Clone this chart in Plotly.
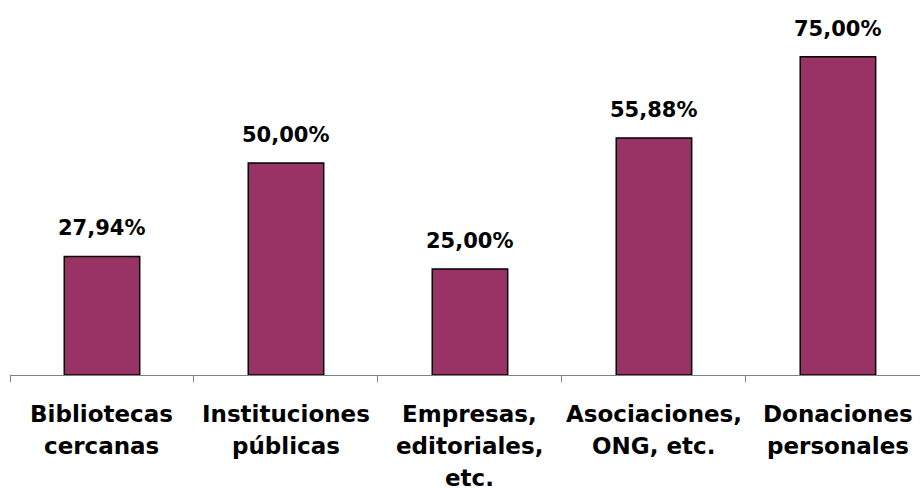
import plotly.graph_objects as go

categories = ["Bibliotecas<br>cercanas", "Instituciones<br>públicas", "Empresas,<br>editoriales,<br>etc.",
              "Asociaciones,<br>ONG, etc.", "Donaciones<br>personales"]
values = [27.94, 50.00, 25.00, 55.88, 75.00]

FONT = "DejaVu Sans, Liberation Sans, Arial"

fig = go.Figure(go.Bar(
    x=categories, y=values,
    marker=dict(color="#993366", line=dict(color="#000000", width=1.5)),
    width=0.41,
    hoverinfo="skip",
))

annotations = []
# data labels
for c, v in zip(categories, values):
    annotations.append(dict(
        x=c, y=v, xref="x", yref="y", yanchor="bottom", yshift=14,
        text=("%.2f%%" % v).replace(".", ","), showarrow=False,
        font=dict(family=FONT, size=21, color="#000000", weight="bold"),
    ))
# category labels, line by line
LINE_GAP = 32
for c in categories:
    for i, line in enumerate(c.split("<br>")):
        annotations.append(dict(
            x=c, y=0, xref="x", yref="paper", yanchor="top",
            yshift=-24 - i * LINE_GAP,
            text=line, showarrow=False,
            font=dict(family=FONT, size=23, color="#000000", weight="bold"),
        ))

fig.update_layout(
    width=920, height=488,
    margin=dict(l=10, r=0, t=0, b=113),
    plot_bgcolor="white", paper_bgcolor="white",
    showlegend=False,
    annotations=annotations,
)
fig.update_xaxes(
    range=[-0.5, 4.446], showline=True, linecolor="#808080", linewidth=1,
    ticks="outside", tickson="boundaries", ticklen=6, tickcolor="#808080",
    showticklabels=False,
)
fig.update_yaxes(range=[0, 88.4], visible=False, showgrid=False)

fig.write_html("out.html", config={"displayModeBar": False},
               post_script="document.body.style.margin='0';")
